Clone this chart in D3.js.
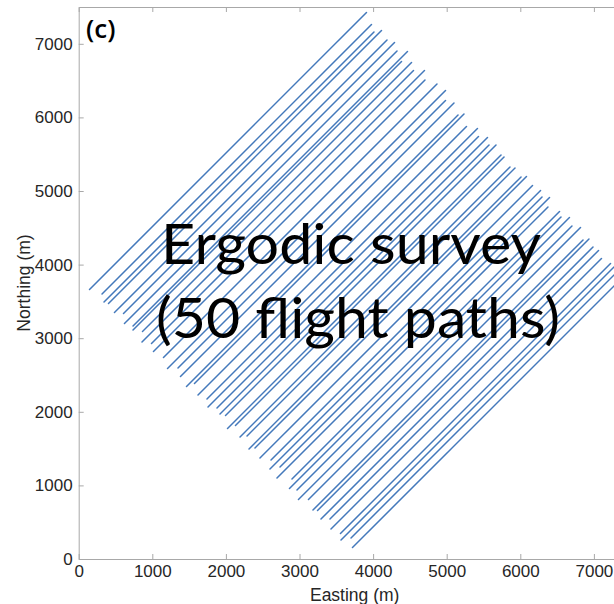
<!DOCTYPE html>
<html><head><meta charset="utf-8">
<script src="https://cdn.jsdelivr.net/npm/d3@7"></script>
<style>
html,body{margin:0;padding:0;background:#fff;overflow:hidden;}
svg{display:block;}
</style></head>
<body>
<svg id="chart" width="614" height="604"></svg>
<script>
// Flight line offsets: northing - easting (m) for each of the 50 parallel 45° lines
const lineOffset = [3515,3284,3148,3067,2863,2727,2577,2428,2374,2224,
  2088,1939,1803,1586,1382,1246,1096,879,811,607,
  431,308,173,50,-45,-249,-317,-534,-616,-819,
  -887,-1091,-1268,-1376,-1485,-1594,-1811,-1906,-2029,-2178,
  -2314,-2518,-2586,-2749,-2871,-3020,-3211,-3306,-3414,-3564];
// Easting where each line starts (south-west end)
const startEasting = [147,317,344,405,486,609,622,738,738,867,
  860,989,1016,1152,1207,1349,1383,1465,1573,1621,
  1743,1757,1879,1920,1995,2022,2130,2192,2287,2314,
  2395,2463,2613,2599,2735,2694,2898,2864,2966,2986,
  3122,3183,3245,3292,3414,3428,3557,3564,3700,3720];
// Easting where each line ends (north-east end)
const endEasting = [3910,3978,4012,4114,4189,4291,4325,4467,4386,4522,
  4549,4698,4705,4868,4984,4984,5099,5154,5235,5269,
  5418,5432,5554,5575,5670,5738,5779,5860,5928,6010,
  6084,6166,6275,6295,6397,6376,6533,6553,6668,6702,
  6818,6852,6933,6988,7063,7103,7226,7273,7355,7416];
const xTicks = [0,1000,2000,3000,4000,5000,6000,7000];
const yTicks = [0,1000,2000,3000,4000,5000,6000,7000];
const panelLabel = "(c)";
const overlayLines = ["Ergodic survey", "(50 flight paths)"];
const xLabel = "Easting (m)";
const yLabel = "Northing (m)";

const lines = lineOffset.map((c,i)=>({
  x0:startEasting[i], y0:startEasting[i]+c,
  x1:endEasting[i],   y1:endEasting[i]+c
}));

const svg = d3.select("#chart");
const x = d3.scaleLinear().domain([0,7500]).range([78.7,630.7]);
const y = d3.scaleLinear().domain([0,7500]).range([559,7]);

const axisColor = "#a8a8a8";
const textColor = "#262626";
const font = "'Liberation Sans', Arial, Helvetica, sans-serif";

// flight lines
svg.append("g").selectAll("line").data(lines).join("line")
  .attr("x1",d=>x(d.x0)).attr("y1",d=>y(d.y0))
  .attr("x2",d=>x(d.x1)).attr("y2",d=>y(d.y1))
  .attr("stroke","#4479bb").attr("stroke-width",1.5)
  .attr("stroke-linecap","round");

function styleAxis(g, showLabels){
  g.selectAll(".domain").attr("stroke",axisColor).attr("stroke-width",1);
  g.selectAll(".tick line").attr("stroke",axisColor).attr("stroke-width",1);
  g.selectAll(".tick text").attr("fill",textColor)
    .style("font-family",font).style("font-size","17px");
  if(!showLabels) g.selectAll(".tick text").remove();
}

svg.append("g").attr("transform",`translate(0,${y(0)})`)
  .call(d3.axisBottom(x).tickValues(xTicks).tickFormat(d3.format("d")).tickSizeInner(-5).tickSizeOuter(0).tickPadding(6))
  .call(g=>styleAxis(g,true));
svg.append("g").attr("transform",`translate(0,${y(7500)})`)
  .call(d3.axisTop(x).tickValues(xTicks).tickSizeInner(-5).tickSizeOuter(0))
  .call(g=>styleAxis(g,false));
svg.append("g").attr("transform",`translate(${x(0)},0)`)
  .call(d3.axisLeft(y).tickValues(yTicks).tickFormat(d3.format("d")).tickSizeInner(-5).tickSizeOuter(0).tickPadding(6))
  .call(g=>styleAxis(g,true));
svg.append("g").attr("transform",`translate(${x(7500)},0)`)
  .call(d3.axisRight(y).tickValues(yTicks).tickSizeInner(-5).tickSizeOuter(0))
  .call(g=>styleAxis(g,false));

// axis labels
svg.append("text").attr("x",(x(0)+x(7500))/2).attr("y",600.5)
  .attr("text-anchor","middle").attr("fill",textColor)
  .style("font-family",font).style("font-size","17.5px").text(xLabel);
svg.append("text").attr("transform",`translate(30,${(y(0)+y(7500))/2}) rotate(-90)`)
  .attr("text-anchor","middle").attr("fill",textColor)
  .style("font-family",font).style("font-size","17.5px").text(yLabel);

// panel label
svg.append("text").attr("x",86).attr("y",38)
  .attr("fill","#000").style("font-family","'Open Sans', sans-serif")
  .style("font-weight","600").style("font-size","26px").text(panelLabel);

// overlay annotation
const ov = [{t:overlayLines[0], x:161, y:264, w:380},{t:overlayLines[1], x:156, y:338, w:404}];
svg.append("g").selectAll("text").data(ov).join("text")
  .attr("x",d=>d.x).attr("y",d=>d.y)
  .attr("textLength",d=>d.w).attr("lengthAdjust","spacingAndGlyphs")
  .attr("fill","#000").style("font-family","Lato, 'Open Sans', sans-serif")
  .style("font-size","56px").text(d=>d.t);
</script>
</body></html>
